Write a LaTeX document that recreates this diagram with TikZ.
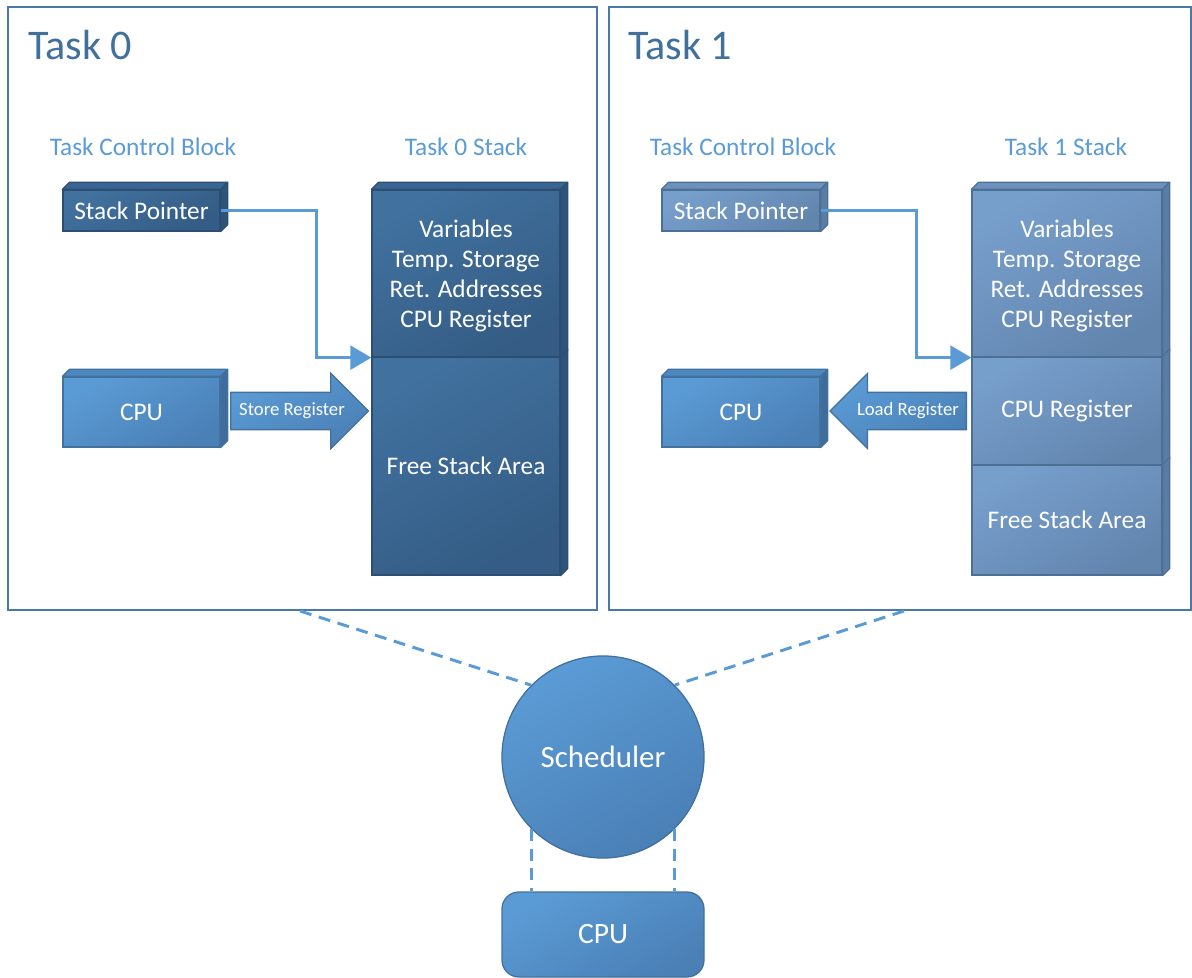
\documentclass[tikz,border=0pt]{standalone}
\usepackage{fontspec}
\setmainfont{Carlito}
\usetikzlibrary{arrows.meta,shapes.arrows,fit}

\definecolor{accent}{HTML}{5B9BD5}
\definecolor{titlecol}{HTML}{41709D}
\definecolor{frameline}{HTML}{4A78A8}
\definecolor{midtop}{HTML}{5B9BD5}
\definecolor{midbot}{HTML}{4A80B6}
\definecolor{midline}{HTML}{41719C}
\definecolor{midside}{HTML}{3E6D9C}
\definecolor{midroof}{HTML}{4E88C0}
\definecolor{darktop}{HTML}{41719F}
\definecolor{darkbot}{HTML}{345C84}
\definecolor{darkline}{HTML}{2C4E72}
\definecolor{darkside}{HTML}{2E5478}
\definecolor{darkroof}{HTML}{3A6590}
\definecolor{graytop}{HTML}{779FCC}
\definecolor{graybot}{HTML}{6285AE}
\definecolor{grayline}{HTML}{4D6F95}
\definecolor{grayside}{HTML}{5A7DA6}
\definecolor{grayroof}{HTML}{6C91BD}

\begin{document}
\begin{tikzpicture}[
  x=0.025cm, y=-0.025cm,
  font=\fontsize{18}{21.3}\selectfont,
  >={Triangle[length=15pt,width=17pt]},
  frame/.style={draw=frameline, line width=1.4pt, inner sep=0},
  title/.style={text=titlecol, inner sep=0, font=\fontsize{30}{34}\selectfont},
  subtitle/.style={text=accent},
  block/.style={
    draw=#1line, line width=0.9pt,
    top color=#1top, bottom color=#1bot, shading angle=30,
    inner sep=0
  },
  boxtext/.style={text=white, align=center},
  bigarrow/.style={
    block=mid, single arrow, single arrow head extend=13.5pt,
    text height=0pt, text depth=0pt, inner xsep=0pt, inner ysep=12.8pt
  },
  arrowtext/.style={text=white, font=\fontsize{13.3}{16}\selectfont},
  link/.style={draw=accent, line width=2.1pt, ->},
  schedlink/.style={draw=accent, line width=2.1pt, dash pattern=on 8.5pt off 5.5pt}
  ]

  \useasboundingbox (0,0) rectangle (1192,978);

  % the two task frames
  \node[frame, fit={(8,7) (597,610)}] (task0) {};
  \node[frame, fit={(609,7) (1191,610)}] (task1) {};

  \node[title, anchor=base west] (title0) at (28,60) {Task 0};
  \node[title, anchor=base west] (title1) at (628,60) {Task 1};

  \node[subtitle] (tcb0) at (143,147) {Task Control Block};
  \node[subtitle] (stk0) at (466,147) {Task 0 Stack};
  \node[subtitle] (tcb1) at (743,147) {Task Control Block};
  \node[subtitle] (stk1) at (1066,147) {Task 1 Stack};

  % task 0
  \node[block=dark, fit={(63,190) (220,231)}] (sp0) {};
  \node[block=mid, fit={(63,377) (220,447)}] (cpu0) {};
  \node[block=dark, fit={(372,190) (560,357)}] (st0a) {};
  \node[block=dark, fit={(372,357) (560,575)}] (st0b) {};
  \node[bigarrow, anchor=tail, minimum height=98pt] (store) at (230,411) {};

  % task 1
  \node[block=gray, fit={(662,190) (820,231)}] (sp1) {};
  \node[block=mid, fit={(662,377) (820,447)}] (cpu1) {};
  \node[block=gray, fit={(972,190) (1162,357)}] (st1a) {};
  \node[block=gray, fit={(972,357) (1162,465)}] (st1b) {};
  \node[block=gray, fit={(972,465) (1162,575)}] (st1c) {};
  \node[bigarrow, anchor=tail, shape border rotate=180, minimum height=97pt] (load) at (967,411) {};

  % 3d faces
  \foreach \n/\c in {sp0/dark,cpu0/mid,st0a/dark,sp1/gray,cpu1/mid,st1a/gray}
    \filldraw[fill=\c roof, draw=\c line, line width=0.9pt, line join=round]
      (\n.north west) -- ++(7,-7) -- ([shift={(7,-7)}]\n.north east) -- (\n.north east) -- cycle;
  \foreach \n/\c in {sp0/dark,cpu0/mid,st0a/dark,st0b/dark,sp1/gray,cpu1/mid,st1a/gray,st1b/gray,st1c/gray}
    \filldraw[fill=\c side, draw=\c line, line width=0.9pt, line join=round]
      (\n.north east) -- ++(7,-7) -- ([shift={(7,-7)}]\n.south east) -- (\n.south east) -- cycle;

  % texts on the boxes
  \node[boxtext] (sp0txt) at (sp0.center) {Stack Pointer};
  \node[boxtext] (cpu0txt) at (cpu0.center) {CPU};
  \node[boxtext] (st0atxt) at ([yshift=-2]st0a.center) {Variables\\Temp. Storage\\Ret. Addresses\\CPU Register};
  \node[boxtext] (st0btxt) at (st0b.center) {Free Stack Area};
  \node[arrowtext] (storetxt) at (292,411) {Store Register};

  \node[boxtext] (sp1txt) at (sp1.center) {Stack Pointer};
  \node[boxtext] (cpu1txt) at (cpu1.center) {CPU};
  \node[boxtext] (st1atxt) at ([yshift=-2]st1a.center) {Variables\\Temp. Storage\\Ret. Addresses\\CPU Register};
  \node[boxtext] (st1btxt) at (st1b.center) {CPU Register};
  \node[boxtext] (st1ctxt) at (st1c.center) {Free Stack Area};
  \node[arrowtext] (loadtxt) at (908,411) {Load Register};

  % stack pointers
  \draw[link] (sp0.east) -- ++(96,0) |- (st0a.south west);
  \draw[link] (sp1.east) -- ++(96,0) |- (st1a.south west);

  % scheduler
  \node[block=mid, circle, minimum size=143.7pt, text=white, font=\fontsize{22}{26}\selectfont] (sched) at (603,757) {Scheduler};
  \node[block=mid, rounded corners=12pt, fit={(502,892) (704,977)}] (cpu) {};
  \node[boxtext, font=\fontsize{21}{25}\selectfont] (cputxt) at (cpu.center) {CPU};

  \coordinate (d0) at (300,611);
  \coordinate (d1) at (904,611);
  \draw[schedlink] (d0) -- (sched.135);
  \draw[schedlink] (d1) -- (sched.45);
  \draw[schedlink] (sched.225) -- (sched.225 |- cpu.north);
  \draw[schedlink] (sched.315) -- (sched.315 |- cpu.north);

\end{tikzpicture}
\end{document}
